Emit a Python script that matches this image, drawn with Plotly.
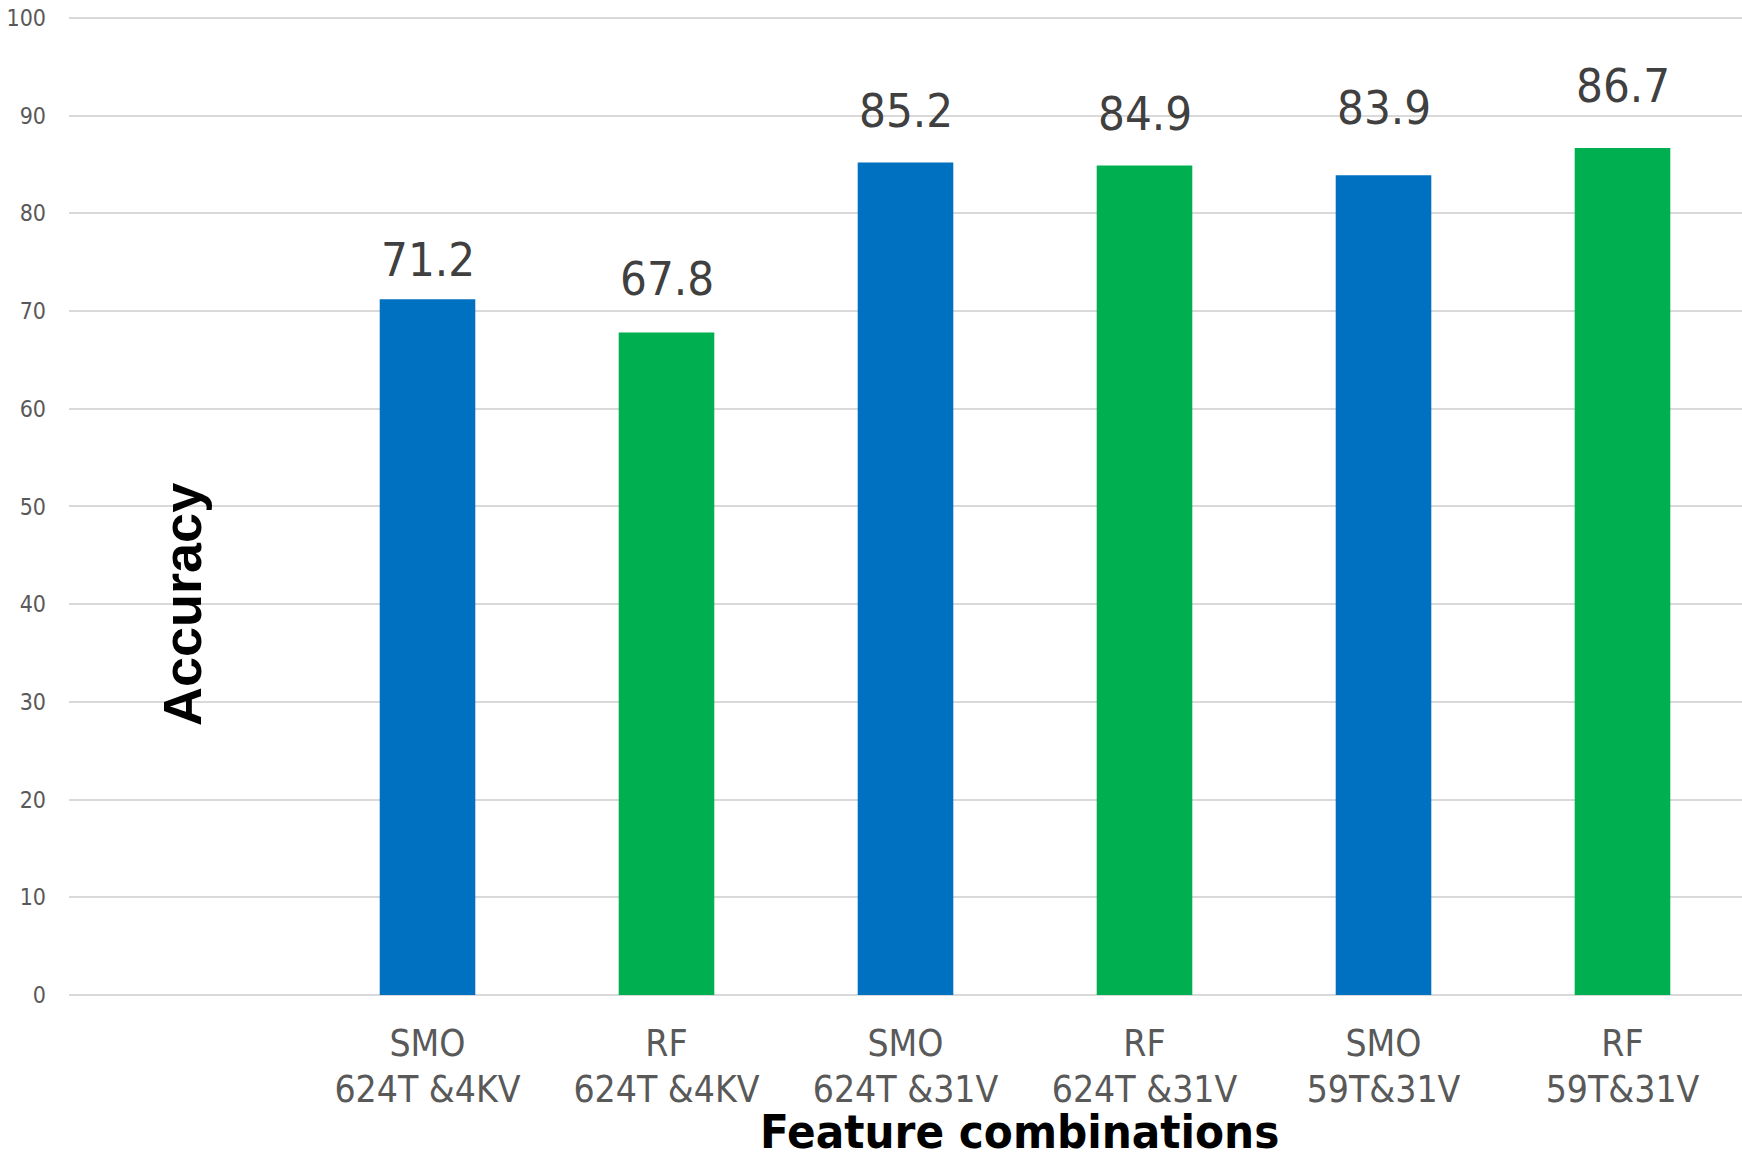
import plotly.graph_objects as go

# Classifier / feature-set combinations and their accuracy (%)
categories = [
    "SMO<br>624T &4KV",
    "RF<br>624T &4KV",
    "SMO<br>624T &31V",
    "RF<br>624T &31V",
    "SMO<br>59T&31V",
    "RF<br>59T&31V",
]
accuracy = [71.2, 67.8, 85.2, 84.9, 83.9, 86.7]
bar_colors = ["#0070C0", "#00B050", "#0070C0", "#00B050", "#0070C0", "#00B050"]
y_ticks = [0, 10, 20, 30, 40, 50, 60, 70, 80, 90, 100]
# vertical offset (px) of each value label above its bar
label_lift = [10, 25, 23, 22, 38, 33]

W, H = 1742, 1153
LEFT, RIGHT, TOP, BOTTOM = 69, 0, 15, 158
PLOT_W = W - LEFT - RIGHT
PLOT_H = H - TOP - BOTTOM
Y_BOTTOM_PX = H - BOTTOM

fig = go.Figure()
fig.add_trace(go.Bar(
    x=categories,
    y=accuracy,
    marker=dict(color=bar_colors, line=dict(width=0)),
    width=0.40,
    hoverinfo="x+y",
))

# value labels above each bar
for cat, val, lift in zip(categories, accuracy, label_lift):
    fig.add_annotation(
        x=cat, y=val, xref="x", yref="y",
        text=f"{val:.1f}",
        showarrow=False, yanchor="bottom", yshift=lift,
        font=dict(family="DejaVu Sans Condensed", size=47, color="#404040"),
    )

# axis titles
fig.add_annotation(
    x=(150 - LEFT) / PLOT_W, y=(Y_BOTTOM_PX - 605) / PLOT_H,
    xref="paper", yref="paper", textangle=-90,
    text="<b>Accuracy</b>", showarrow=False,
    font=dict(family="Liberation Sans", size=54, color="#000000"),
)
fig.add_annotation(
    x=(1019 - LEFT) / PLOT_W, y=(Y_BOTTOM_PX - 1131) / PLOT_H,
    xref="paper", yref="paper", yanchor="middle",
    text="<b>Feature combinations</b>", showarrow=False,
    font=dict(family="DejaVu Sans Condensed", size=47, color="#000000"),
)

tick_text = [f'<span style="font-size:37px">{c}</span>' for c in categories]

fig.update_layout(
    width=W, height=H,
    margin=dict(l=LEFT, r=RIGHT, t=TOP, b=BOTTOM, pad=0),
    paper_bgcolor="white", plot_bgcolor="white",
    showlegend=False,
    xaxis=dict(
        type="category",
        categoryarray=categories,
        range=[-1.5, 5.5],
        tickvals=categories,
        ticktext=tick_text,
        showgrid=False, showline=False, zeroline=False,
        ticks="", ticklabelstandoff=25,
        tickfont=dict(family="DejaVu Sans Condensed", size=35, color="#595959"),
    ),
    yaxis=dict(
        range=[0, 100.3],
        tickvals=y_ticks,
        showgrid=True, gridcolor="#D9D9D9", gridwidth=1.8,
        zeroline=True, zerolinecolor="#D9D9D9", zerolinewidth=2,
        showline=False, ticks="", ticklabelstandoff=22,
        tickfont=dict(family="DejaVu Sans Condensed", size=23, color="#595959"),
    ),
    bargap=0.6,
)

fig.write_html("out.html")
